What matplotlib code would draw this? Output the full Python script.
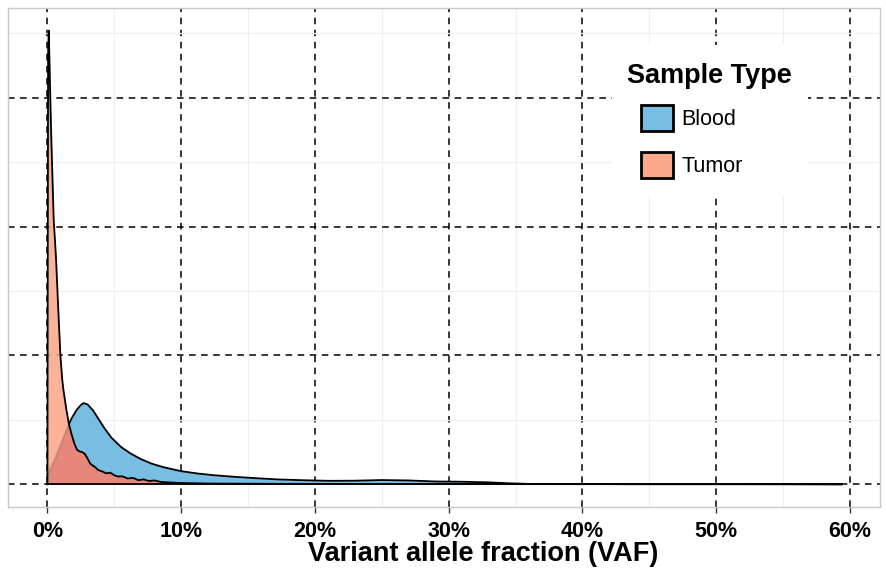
import numpy as np
import matplotlib
matplotlib.use("Agg")
import matplotlib.pyplot as plt
from matplotlib.patches import Patch, Rectangle
from matplotlib.ticker import MultipleLocator, FixedLocator

plt.rcParams["font.family"] = ["Liberation Sans", "DejaVu Sans"]

# Density curves (VAF as fraction, density)
blood_vaf = [0, 0.003, 0.006, 0.010, 0.014, 0.018, 0.022, 0.025, 0.027, 0.030,
             0.034, 0.038, 0.043, 0.048, 0.055, 0.062, 0.070, 0.078, 0.087, 0.100,
             0.112, 0.125, 0.140, 0.155, 0.172, 0.190, 0.210, 0.230, 0.250, 0.270,
             0.290, 0.310, 0.330, 0.345, 0.360, 0.400, 0.450, 0.500, 0.550, 0.594]
blood_density = [0.8, 1.4, 2.1, 3.1, 4.2, 5.1, 5.8, 6.15, 6.3, 6.2,
                 5.75, 5.1, 4.3, 3.6, 2.9, 2.4, 1.95, 1.6, 1.32, 1.02,
                 0.84, 0.7, 0.58, 0.48, 0.38, 0.32, 0.27, 0.28, 0.33, 0.3,
                 0.22, 0.2, 0.15, 0.08, 0.03, 0.02, 0.01, 0.01, 0.01, 0.0]

tumor_vaf = [0, 0.0005, 0.001, 0.0015, 0.0022, 0.003, 0.004, 0.0047, 0.0056, 0.0065,
             0.008, 0.0097, 0.011, 0.012, 0.014, 0.016, 0.018, 0.020, 0.022, 0.024,
             0.026, 0.028, 0.030, 0.032, 0.034, 0.036, 0.038, 0.041, 0.044, 0.047,
             0.050, 0.053, 0.056, 0.060, 0.064, 0.068, 0.072, 0.076, 0.080, 0.085,
             0.090, 0.100, 0.110, 0.120, 0.140, 0.200, 0.300, 0.400, 0.500, 0.594]
tumor_density = [0, 33.5, 35.2, 33.0, 29.8, 26.5, 23.0, 20.5, 19.0, 17.4,
                 13.8, 10.0, 8.2, 7.3, 5.9, 4.7, 3.9, 3.2, 2.7, 2.55,
                 2.5, 2.35, 2.0, 1.6, 1.45, 1.3, 1.1, 1.0, 0.85, 0.9,
                 0.7, 0.6, 0.62, 0.45, 0.5, 0.32, 0.38, 0.25, 0.3, 0.18,
                 0.15, 0.1, 0.08, 0.06, 0.05, 0.03, 0.02, 0.01, 0.01, 0.0]

x_ticks = [0, 0.1, 0.2, 0.3, 0.4, 0.5, 0.6]
x_tick_labels = ["0%", "10%", "20%", "30%", "40%", "50%", "60%"]
y_ticks = [0, 10, 20, 30]

blue = "#78BEE2"
salmon = "#FCA88B"
overlap = "#E5877A"

fig = plt.figure(figsize=(8.86, 5.73), dpi=100)
ax = fig.add_axes([0.009, 0.1152, 0.9842, 0.8709])

# common grid so the overlap can be filled
grid_x = np.union1d(blood_vaf, tumor_vaf)
b = np.interp(grid_x, blood_vaf, blood_density)
t = np.interp(grid_x, tumor_vaf, tumor_density)
low = np.minimum(b, t)

ax.fill_between(blood_vaf, 0, blood_density, color=blue, lw=0, zorder=2)
ax.plot(blood_vaf, blood_density, color="black", lw=1.3, zorder=2.1)
ax.fill_between(grid_x, low, t, color=salmon, alpha=0.88, lw=0, zorder=2.2)
ax.fill_between(grid_x, 0, low, color=overlap, lw=0, zorder=2.3)
ax.plot(tumor_vaf, tumor_density, color="black", lw=1.3, zorder=2.4)
ax.plot([0, 0.594], [0, 0], color="black", lw=1.3, zorder=2.4)

ax.set_xlim(-0.0295, 0.6225)
ax.set_ylim(-1.76, 36.96)

ax.xaxis.set_major_locator(FixedLocator(x_ticks))
ax.set_xticklabels(x_tick_labels, fontsize=15.5, fontweight="bold")
ax.xaxis.set_minor_locator(MultipleLocator(0.05))
ax.yaxis.set_major_locator(FixedLocator(y_ticks))
ax.yaxis.set_minor_locator(MultipleLocator(5))
ax.tick_params(axis="x", which="major", length=4, width=1, color="#333333", pad=6)
ax.tick_params(axis="y", which="major", length=0, labelleft=False)
ax.tick_params(which="minor", length=0)

ax.set_axisbelow(True)
ax.grid(which="minor", color="#F0F0F0", lw=0.9, linestyle="-")
ax.grid(which="major", color="black", lw=1.1, linestyle=(0, (4.3, 3.6)))

for s in ax.spines.values():
    s.set_color("#C8C8C8")
    s.set_linewidth(1)

ax.set_xlabel("Variant allele fraction (VAF)", fontsize=19.5, fontweight="bold")
ax.xaxis.set_label_coords(0.545, -0.068)

# legend: white panel, title, keys
ax.add_patch(Rectangle((0.6927, 0.6253), 0.2247, 0.3006, transform=ax.transAxes,
                       facecolor="white", edgecolor="none", zorder=4))
ax.text(0.7099, 0.8637, "Sample Type", transform=ax.transAxes, fontsize=19.5,
        fontweight="bold", va="center", ha="left", zorder=5)
handles = [Patch(facecolor=blue, edgecolor="black", lw=2, label="Blood"),
           Patch(facecolor=salmon, edgecolor="black", lw=2, label="Tumor")]
leg = ax.legend(handles=handles, loc="upper left", bbox_to_anchor=(0.7259, 0.8056),
                fontsize=15.5, frameon=False, handlelength=1.49, handleheight=1.49,
                labelspacing=0.98, handletextpad=0.4, borderpad=0, borderaxespad=0)
leg.set_zorder(5)

fig.savefig("out.png", dpi=100)
